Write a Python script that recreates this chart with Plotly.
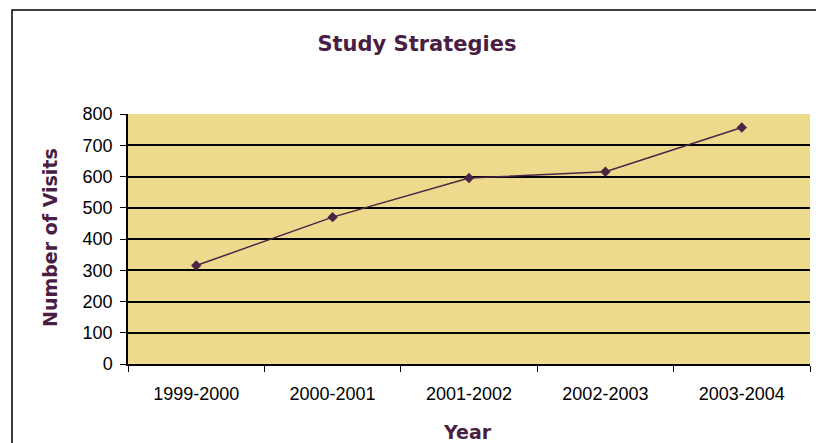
import plotly.graph_objects as go

years = ["1999-2000", "2000-2001", "2001-2002", "2002-2003", "2003-2004"]
visits = [315, 470, 595, 615, 757]
y_ticks = [0, 100, 200, 300, 400, 500, 600, 700, 800]

purple = "#4A1E42"
L, R, T, B = 128, 6, 114, 79
W, H = 816, 443
pw = W - L - R
ph = H - T - B

fig = go.Figure()
fig.add_trace(go.Scatter(
    x=years, y=visits, mode="lines+markers",
    line=dict(color="#4A2545", width=1.5),
    marker=dict(symbol="diamond", size=8, color="#4A2545"),
    showlegend=False,
))

tickfont = dict(family="Liberation Sans, Arial", size=18, color="black")

fig.update_layout(
    width=W, height=H,
    margin=dict(l=L, r=R, t=T, b=B, autoexpand=False),
    paper_bgcolor="white",
    plot_bgcolor="#EDDA8C",
    title=dict(text="<b>Study Strategies</b>", x=417 / W, xanchor="center",
               y=1 - 44 / H, yanchor="middle",
               font=dict(family="DejaVu Sans", size=21, color=purple)),
    xaxis=dict(
        type="category", tickson="boundaries", ticks="outside", ticklen=6,
        tickcolor="black", linecolor="black", linewidth=1.5, showline=True,
        showgrid=False, range=[-0.5, 4.5], automargin=False,
        ticklabelstandoff=13, tickfont=tickfont,
    ),
    yaxis=dict(
        range=[0, 800], tickvals=y_ticks, ticks="outside", ticklen=6,
        tickcolor="black", linecolor="black", linewidth=1.5, showline=True,
        showgrid=True, gridcolor="black", gridwidth=1.5, zeroline=False,
        automargin=False, ticklabelstandoff=4, tickfont=tickfont,
    ),
    annotations=[
        dict(text="<b>Year</b>", xref="paper", yref="paper",
             x=(467 - L) / pw, y=-(432 - T - ph) / ph, xanchor="center", yanchor="middle",
             showarrow=False,
             font=dict(family="DejaVu Sans", size=19, color=purple)),
        dict(text="<b>Number of Visits</b>", xref="paper", yref="paper",
             x=(50 - L) / pw, y=(T + ph - 238) / ph, xanchor="center", yanchor="middle",
             textangle=-90, showarrow=False,
             font=dict(family="DejaVu Sans", size=19, color=purple)),
    ],
)

# outer chart border
fig.add_shape(type="rect", xref="paper", yref="paper",
              x0=(12 - L) / pw, x1=(W + 20 - L) / pw,
              y0=-(H + 20 - (T + ph)) / ph, y1=(T + ph - 10) / ph,
              line=dict(color="black", width=1.5), layer="below")

fig.write_html("out.html", config={"displayModeBar": False},
               post_script="document.body.style.margin='0';")
